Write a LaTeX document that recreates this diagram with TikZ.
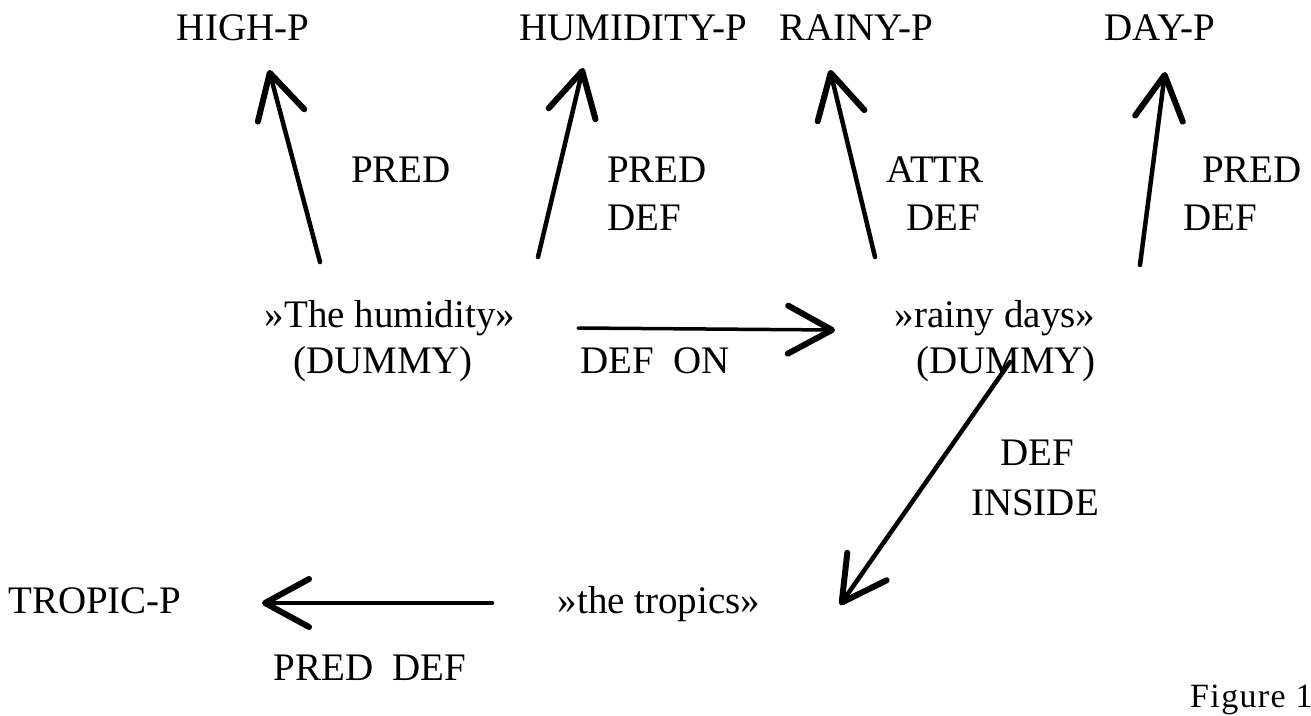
\documentclass[tikz,border=0pt]{standalone}
\usepackage{fontspec}
\setmainfont{Liberation Serif}
\usetikzlibrary{arrows.meta}
\begin{document}
\begin{tikzpicture}[x=1pt,y=-1pt,
  txt/.style={inner sep=0pt, anchor=base, font=\fontsize{39}{47}\selectfont},
  arr/.style={line width=4.5pt, line cap=round,
    -{Straight Barb[length=44pt,width=48pt,line width=6pt,round]}}]
\useasboundingbox (0,0) rectangle (1311,715);

% predicate nodes (top row)
\node[txt] (highp)  at (243,40)  {HIGH-P};
\node[txt] (humidp) at (633,40)  {HUMIDITY-P};
\node[txt] (rainyp) at (856,40)  {RAINY-P};
\node[txt] (dayp)   at (1160,40) {DAY-P};

% edge labels of the upward arrows
\node[txt] (l1) at (401,182) {PRED};
\node[txt,anchor=base west] (l2a) at (607,182) {PRED};
\node[txt,anchor=base west] (l2b) at (607,230) {DEF};
\node[txt] (l3a) at (935,182) {ATTR};
\node[txt] (l3b) at (943,230) {DEF};
\node[txt] (l4a) at (1252,182) {PRED};
\node[txt] (l4b) at (1220,230) {DEF};

% dummy nodes
\node[txt] (hum)  at (390,327)  {»The humidity»};
\node[txt] (humd) at (383,373)  {(DUMMY)};
\node[txt,anchor=base west] (defon) at (580,373) {DEF\ \ ON};
\node[txt] (rain)  at (995,327)  {»rainy days»};
\node[txt] (raind) at (1006,373) {(DUMMY)};
\node[txt] (l5a) at (1037,465) {DEF};
\node[txt] (l5b) at (1035,515) {INSIDE};

% bottom row
\node[txt,anchor=base west] (tropicp) at (8,613) {TROPIC-P};
\node[txt] (trop) at (659,613) {»the tropics»};
\node[txt] (l6) at (370,680) {PRED\ \ DEF};
\node[anchor=base west, inner sep=0pt,
  font=\fontsize{34}{40}\selectfont\addfontfeature{LetterSpace=4}] (fig) at (1190,707) {Figure 1};

% arrows
\draw[arr] ([shift={(-70,-65)}]hum.base) -- ([shift={(26,30)}]highp.base);
\draw[arr] ([shift={(148,-70)}]hum.base) -- ([shift={(-50,28)}]humidp.base);
\draw[arr] ([shift={(-120,-70)}]rain.base) -- ([shift={(-26,30)}]rainyp.base);
\draw[arr] ([shift={(145,-62)}]rain.base) -- ([shift={(5,32)}]dayp.base);
\draw[arr,line width=3.5pt] ([shift={(188,1)}]hum.base) -- ([shift={(-160,3)}]rain.base);
\draw[arr] ([shift={(4,-11)}]raind.base) -- ([shift={(181,-8)}]trop.base);
\draw[arr] ([shift={(-167,-10)}]trop.base) -- ([shift={(254,-10)}]tropicp.base west);
\end{tikzpicture}
\end{document}
